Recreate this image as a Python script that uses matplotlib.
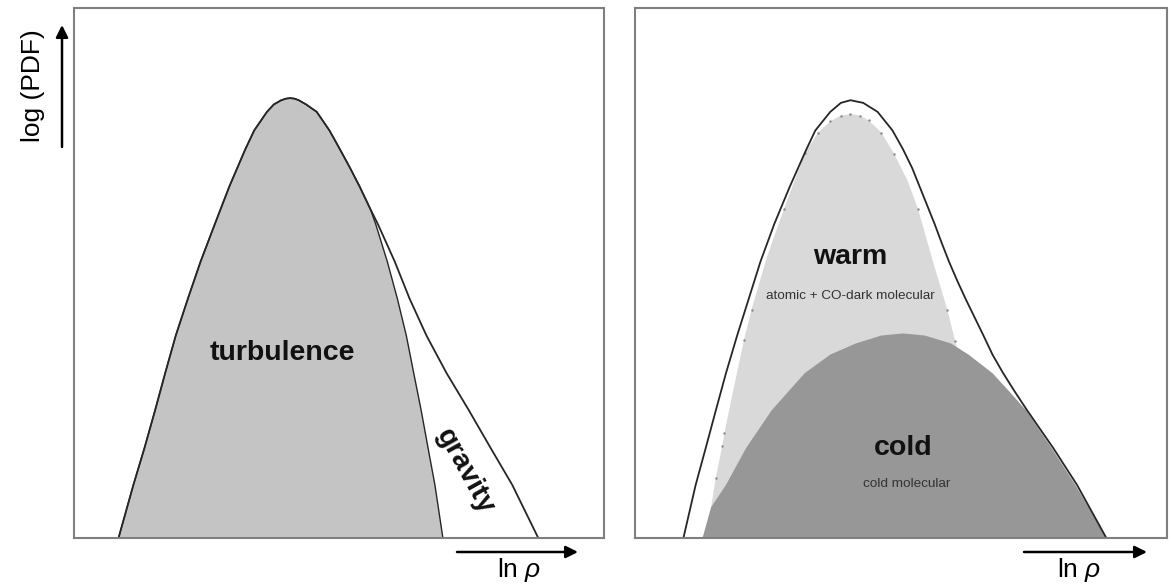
import numpy as np
import matplotlib.pyplot as plt

plt.rcParams['font.family'] = ['Liberation Sans', 'DejaVu Sans']
plt.rcParams['mathtext.fontset'] = 'custom'
plt.rcParams['mathtext.rm'] = 'Liberation Sans'
plt.rcParams['mathtext.it'] = 'Liberation Sans:italic'

W, H = 1171, 585

# ---- left panel: turbulence PDF + gravity tail ----
rise_x = [0.084, 0.112, 0.133, 0.153, 0.172, 0.192, 0.215, 0.239, 0.266, 0.293,
          0.323, 0.340, 0.364, 0.377, 0.391, 0.400, 0.408]
rise_y = [0.000, 0.100, 0.170, 0.241, 0.311, 0.382, 0.452, 0.522, 0.593, 0.663,
          0.733, 0.769, 0.804, 0.818, 0.826, 0.829, 0.830]
fall_x = [0.416, 0.424, 0.438, 0.458, 0.482, 0.502, 0.521, 0.539, 0.559]
fall_y = [0.829, 0.826, 0.818, 0.804, 0.769, 0.733, 0.698, 0.663, 0.621]
turb_tail_x = [0.569, 0.591, 0.610, 0.627, 0.641, 0.655, 0.668, 0.681, 0.696]
turb_tail_y = [0.593, 0.522, 0.452, 0.382, 0.311, 0.241, 0.170, 0.100, 0.000]
grav_tail_x = [0.573, 0.605, 0.633, 0.665, 0.703, 0.745, 0.786, 0.827, 0.876]
grav_tail_y = [0.593, 0.522, 0.452, 0.382, 0.311, 0.241, 0.170, 0.100, 0.000]

# ---- right panel: total PDF, warm and cold phases ----
total_x = [0.091, 0.114, 0.133, 0.152, 0.171, 0.192, 0.214, 0.236, 0.262, 0.291,
           0.322, 0.339, 0.367, 0.387, 0.405, 0.429, 0.456, 0.484, 0.504, 0.521,
           0.535, 0.549, 0.563, 0.576, 0.590, 0.605, 0.621, 0.638, 0.655, 0.672,
           0.692, 0.714, 0.737, 0.786, 0.831, 0.886]
total_y = [0.000, 0.100, 0.170, 0.241, 0.311, 0.382, 0.452, 0.522, 0.593, 0.663,
           0.733, 0.769, 0.804, 0.821, 0.826, 0.821, 0.804, 0.769, 0.733, 0.698,
           0.663, 0.628, 0.593, 0.558, 0.522, 0.487, 0.452, 0.417, 0.382, 0.346,
           0.311, 0.276, 0.241, 0.170, 0.100, 0.000]
warm_x = [0.160, 0.143, 0.152, 0.164, 0.168, 0.185, 0.205, 0.219, 0.248, 0.280,
          0.319, 0.344, 0.367, 0.387, 0.405, 0.423, 0.439, 0.463, 0.487, 0.512,
          0.532, 0.560, 0.587, 0.602, 0.620, 0.660, 0.680]
warm_y = [0.000, 0.058, 0.114, 0.174, 0.198, 0.280, 0.374, 0.431, 0.530, 0.621,
          0.726, 0.765, 0.786, 0.797, 0.800, 0.797, 0.788, 0.765, 0.725, 0.675,
          0.621, 0.522, 0.431, 0.371, 0.300, 0.150, 0.000]
warm_nodes = [2, 3, 4, 6, 7, 9, 10, 11, 12, 13, 14, 15, 16, 17, 18, 20, 22, 23]
cold_x = [0.127, 0.143, 0.171, 0.209, 0.257, 0.319, 0.367, 0.415, 0.463, 0.504,
          0.545, 0.594, 0.627, 0.672, 0.704, 0.735, 0.783, 0.828, 0.886]
cold_y = [0.000, 0.058, 0.100, 0.170, 0.241, 0.311, 0.346, 0.367, 0.382, 0.386,
          0.382, 0.367, 0.346, 0.311, 0.276, 0.241, 0.170, 0.100, 0.000]

fig = plt.figure(figsize=(W / 100, H / 100), dpi=100)
ax1 = fig.add_axes([74 / W, 47 / H, 530 / W, 530 / H])
ax2 = fig.add_axes([635 / W, 47 / H, 532 / W, 530 / H])

line_col = '#262626'

# left panel
turb_x = rise_x + fall_x + turb_tail_x
turb_y = rise_y + fall_y + turb_tail_y
tot_x = rise_x + fall_x + grav_tail_x
tot_y = rise_y + fall_y + grav_tail_y
ax1.fill(turb_x, turb_y, color='#c4c4c4', lw=0)
ax1.plot(turb_x, turb_y, color=line_col, lw=1.0, solid_joinstyle='round')
ax1.plot(tot_x, tot_y, color=line_col, lw=1.3, solid_joinstyle='round')
ax1.text(0.394, 0.349, 'turbulence', ha='center', va='center',
         fontsize=20.5, fontweight='bold', color='#111111')
ax1.text(0.738, 0.125, 'gravity', ha='center', va='center', rotation=-61,
         rotation_mode='anchor', fontsize=20.5, fontweight='bold', color='#111111')

# right panel
ax2.fill(warm_x, warm_y, color='#d9d9d9', lw=0)
ax2.plot([warm_x[i] for i in warm_nodes], [warm_y[i] for i in warm_nodes],
         ls='none', marker='.', ms=1.5, color='#8a8a8a')
ax2.fill(cold_x, cold_y, color='#979797', lw=0)
ax2.plot(total_x, total_y, color=line_col, lw=1.3, solid_joinstyle='round')
ax2.text(0.404, 0.530, 'warm', ha='center', va='center',
         fontsize=20.5, fontweight='bold', color='#111111')
ax2.text(0.405, 0.457, 'atomic + CO-dark molecular', ha='center', va='center',
         fontsize=9.7, color='#333333')
ax2.text(0.505, 0.170, 'cold', ha='center', va='center',
         fontsize=20.5, fontweight='bold', color='#111111')
ax2.text(0.511, 0.102, 'cold molecular', ha='center', va='center',
         fontsize=9.7, color='#333333')

for ax in (ax1, ax2):
    ax.set_xlim(0, 1)
    ax.set_ylim(0, 1)
    ax.set_xticks([])
    ax.set_yticks([])
    for s in ax.spines.values():
        s.set_color('#7f7f7f')
        s.set_linewidth(1.5)

# axis arrows and labels (figure pixels)
arrow = dict(arrowstyle='-|>', color='black', lw=1.8, mutation_scale=18,
             shrinkA=0, shrinkB=0)
fig.add_artist(plt.Annotation('', xy=(62, H - 25), xytext=(62, H - 147),
                              xycoords='figure pixels', arrowprops=arrow))
fig.text(33 / W, (H - 86) / H, 'log (PDF)', rotation=90, ha='center', va='center',
         fontsize=19)
for x0, x1, xc in [(457, 578, 519), (1024, 1147, 1079)]:
    fig.add_artist(plt.Annotation('', xy=(x1, H - 552), xytext=(x0, H - 552),
                                  xycoords='figure pixels', arrowprops=arrow))
    fig.text(xc / W, (H - 577) / H, r'ln $\rho$', ha='center', va='baseline',
             fontsize=19)

fig.savefig('out.png', dpi=100)
